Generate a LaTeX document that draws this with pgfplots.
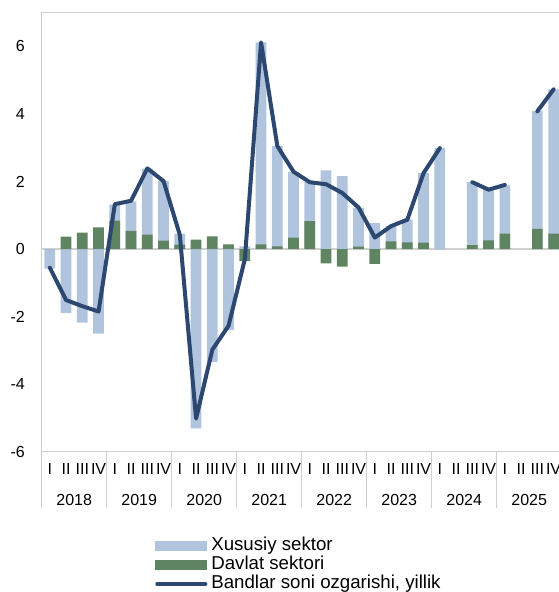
\documentclass[border=0pt]{standalone}
\usepackage{fontspec}
\setmainfont{Liberation Sans}
\usepackage{pgfplots}
\usepackage{pgfplotstable}
\pgfplotsset{compat=1.18}
\definecolor{privblue}{HTML}{B0C4DE}
\definecolor{stgreen}{HTML}{5E8462}
\definecolor{linenavy}{HTML}{2C4770}
\definecolor{axgrey}{HTML}{D0D0D0}

% i = quarter index (0 = 2018 Q1), b = Xususiy sektor, g = Davlat sektori
\pgfplotstableread{
i b g
0 -0.58 0.00
1 -1.89 0.37
2 -2.18 0.49
3 -2.50 0.64
4 0.48 0.84
5 0.87 0.54
6 1.95 0.43
7 1.76 0.25
8 0.32 0.13
9 -5.31 0.28
10 -3.35 0.38
11 -2.40 0.14
12 0.08 -0.36
13 5.98 0.14
14 2.97 0.08
15 1.94 0.34
16 1.15 0.83
17 2.33 -0.42
18 2.16 -0.52
19 1.15 0.07
20 0.77 -0.44
21 0.46 0.23
22 0.67 0.20
23 2.06 0.19
24 2.99 0.00
26 1.86 0.12
27 1.50 0.26
28 1.43 0.46
30 3.49 0.60
31 4.27 0.46
}\bars

% Bandlar soni ozgarishi, yillik
\pgfplotstableread{
i v
0 -0.55
1 -1.51
2 -1.69
3 -1.85
4 1.33
5 1.43
6 2.39
7 2.01
8 0.42
9 -5.02
10 -2.98
11 -2.27
12 -0.30
13 6.12
14 3.05
15 2.29
16 1.98
17 1.92
18 1.66
19 1.23
20 0.34
21 0.68
22 0.87
23 2.25
24 2.99
25 nan
26 1.98
27 1.76
28 1.90
29 nan
30 4.08
31 4.73
}\total

\begin{document}
\begin{tikzpicture}
\useasboundingbox (0,0) rectangle (419.25pt,444pt);
\begin{axis}[
  at={(31.275pt,105.225pt)}, anchor=south west,
  scale only axis, width=390pt, height=329.25pt,
  xmin=-0.5, xmax=31.5, ymin=-6, ymax=7,
  unbounded coords=jump,
  axis line style={axgrey, line width=0.9pt},
  ytick={-6,-4,-2,0,2,4,6},
  yticklabels={-6,-4,-2,0,2,4,6},
  ytick pos=left, xtick pos=bottom,
  major tick length=0pt,
  yticklabel style={anchor=east, inner sep=0pt, xshift=-12.5pt, font=\fontsize{12}{14}\selectfont},
  xtick={0,...,31},
  xticklabels={I,II,III,IV,I,II,III,IV,I,II,III,IV,I,II,III,IV,I,II,III,IV,I,II,III,IV,I,II,III,IV,I,II,III,IV},
  xticklabel style={anchor=base, inner sep=0pt, yshift=-17.3pt, font=\fontsize{12}{14}\selectfont},
  minor xtick={-0.5,3.5,...,31.5},
  minor tick length=42pt, tick align=outside,
  minor tick style={axgrey, line width=0.9pt},
  extra x ticks={1.5,5.5,...,29.5},
  extra x tick labels={2018,2019,2020,2021,2022,2023,2024,2025},
  extra x tick style={major tick length=0pt, xticklabel style={yshift=-23.2pt}},
  legend style={draw=none, fill=none, at={(0.218,-0.193)}, anchor=north west,
    inner sep=0pt, row sep=0.25pt, font=\fontsize{14}{16}\selectfont,
    nodes={inner sep=0.5pt, text height=10pt, text depth=3pt}},
  legend cell align=left,
]
\draw[axgrey, line width=0.9pt] (axis cs:-0.5,0) -- (axis cs:31.5,0);
\addplot[ybar, bar width=8pt, bar shift=0pt, fill=privblue, draw=none,
  legend image code/.code={\fill[privblue] (0pt,-3.5pt) rectangle (39pt,3.5pt);}]
  table[x=i, y expr={\thisrow{b}+\thisrow{g}*(\thisrow{b}*\thisrow{g}>0)}] {\bars};
\addlegendentry{\hspace{2.5pt}Xususiy sektor}
\addplot[ybar, bar width=8pt, bar shift=0pt, fill=stgreen, draw=none,
  legend image code/.code={\fill[stgreen] (0pt,-3.5pt) rectangle (39pt,3.5pt);}]
  table[x=i, y=g] {\bars};
\addlegendentry{\hspace{2.5pt}Davlat sektori}
\addplot[linenavy, line width=3pt, line join=round, line cap=round, mark=none,
  legend image code/.code={\draw[linenavy, line width=3pt, line cap=round] (1.5pt,0pt) -- (37.5pt,0pt);}]
  table[x=i, y=v] {\total};
\addlegendentry{\hspace{2.5pt}Bandlar soni ozgarishi, yillik}
\end{axis}
\end{tikzpicture}
\end{document}
